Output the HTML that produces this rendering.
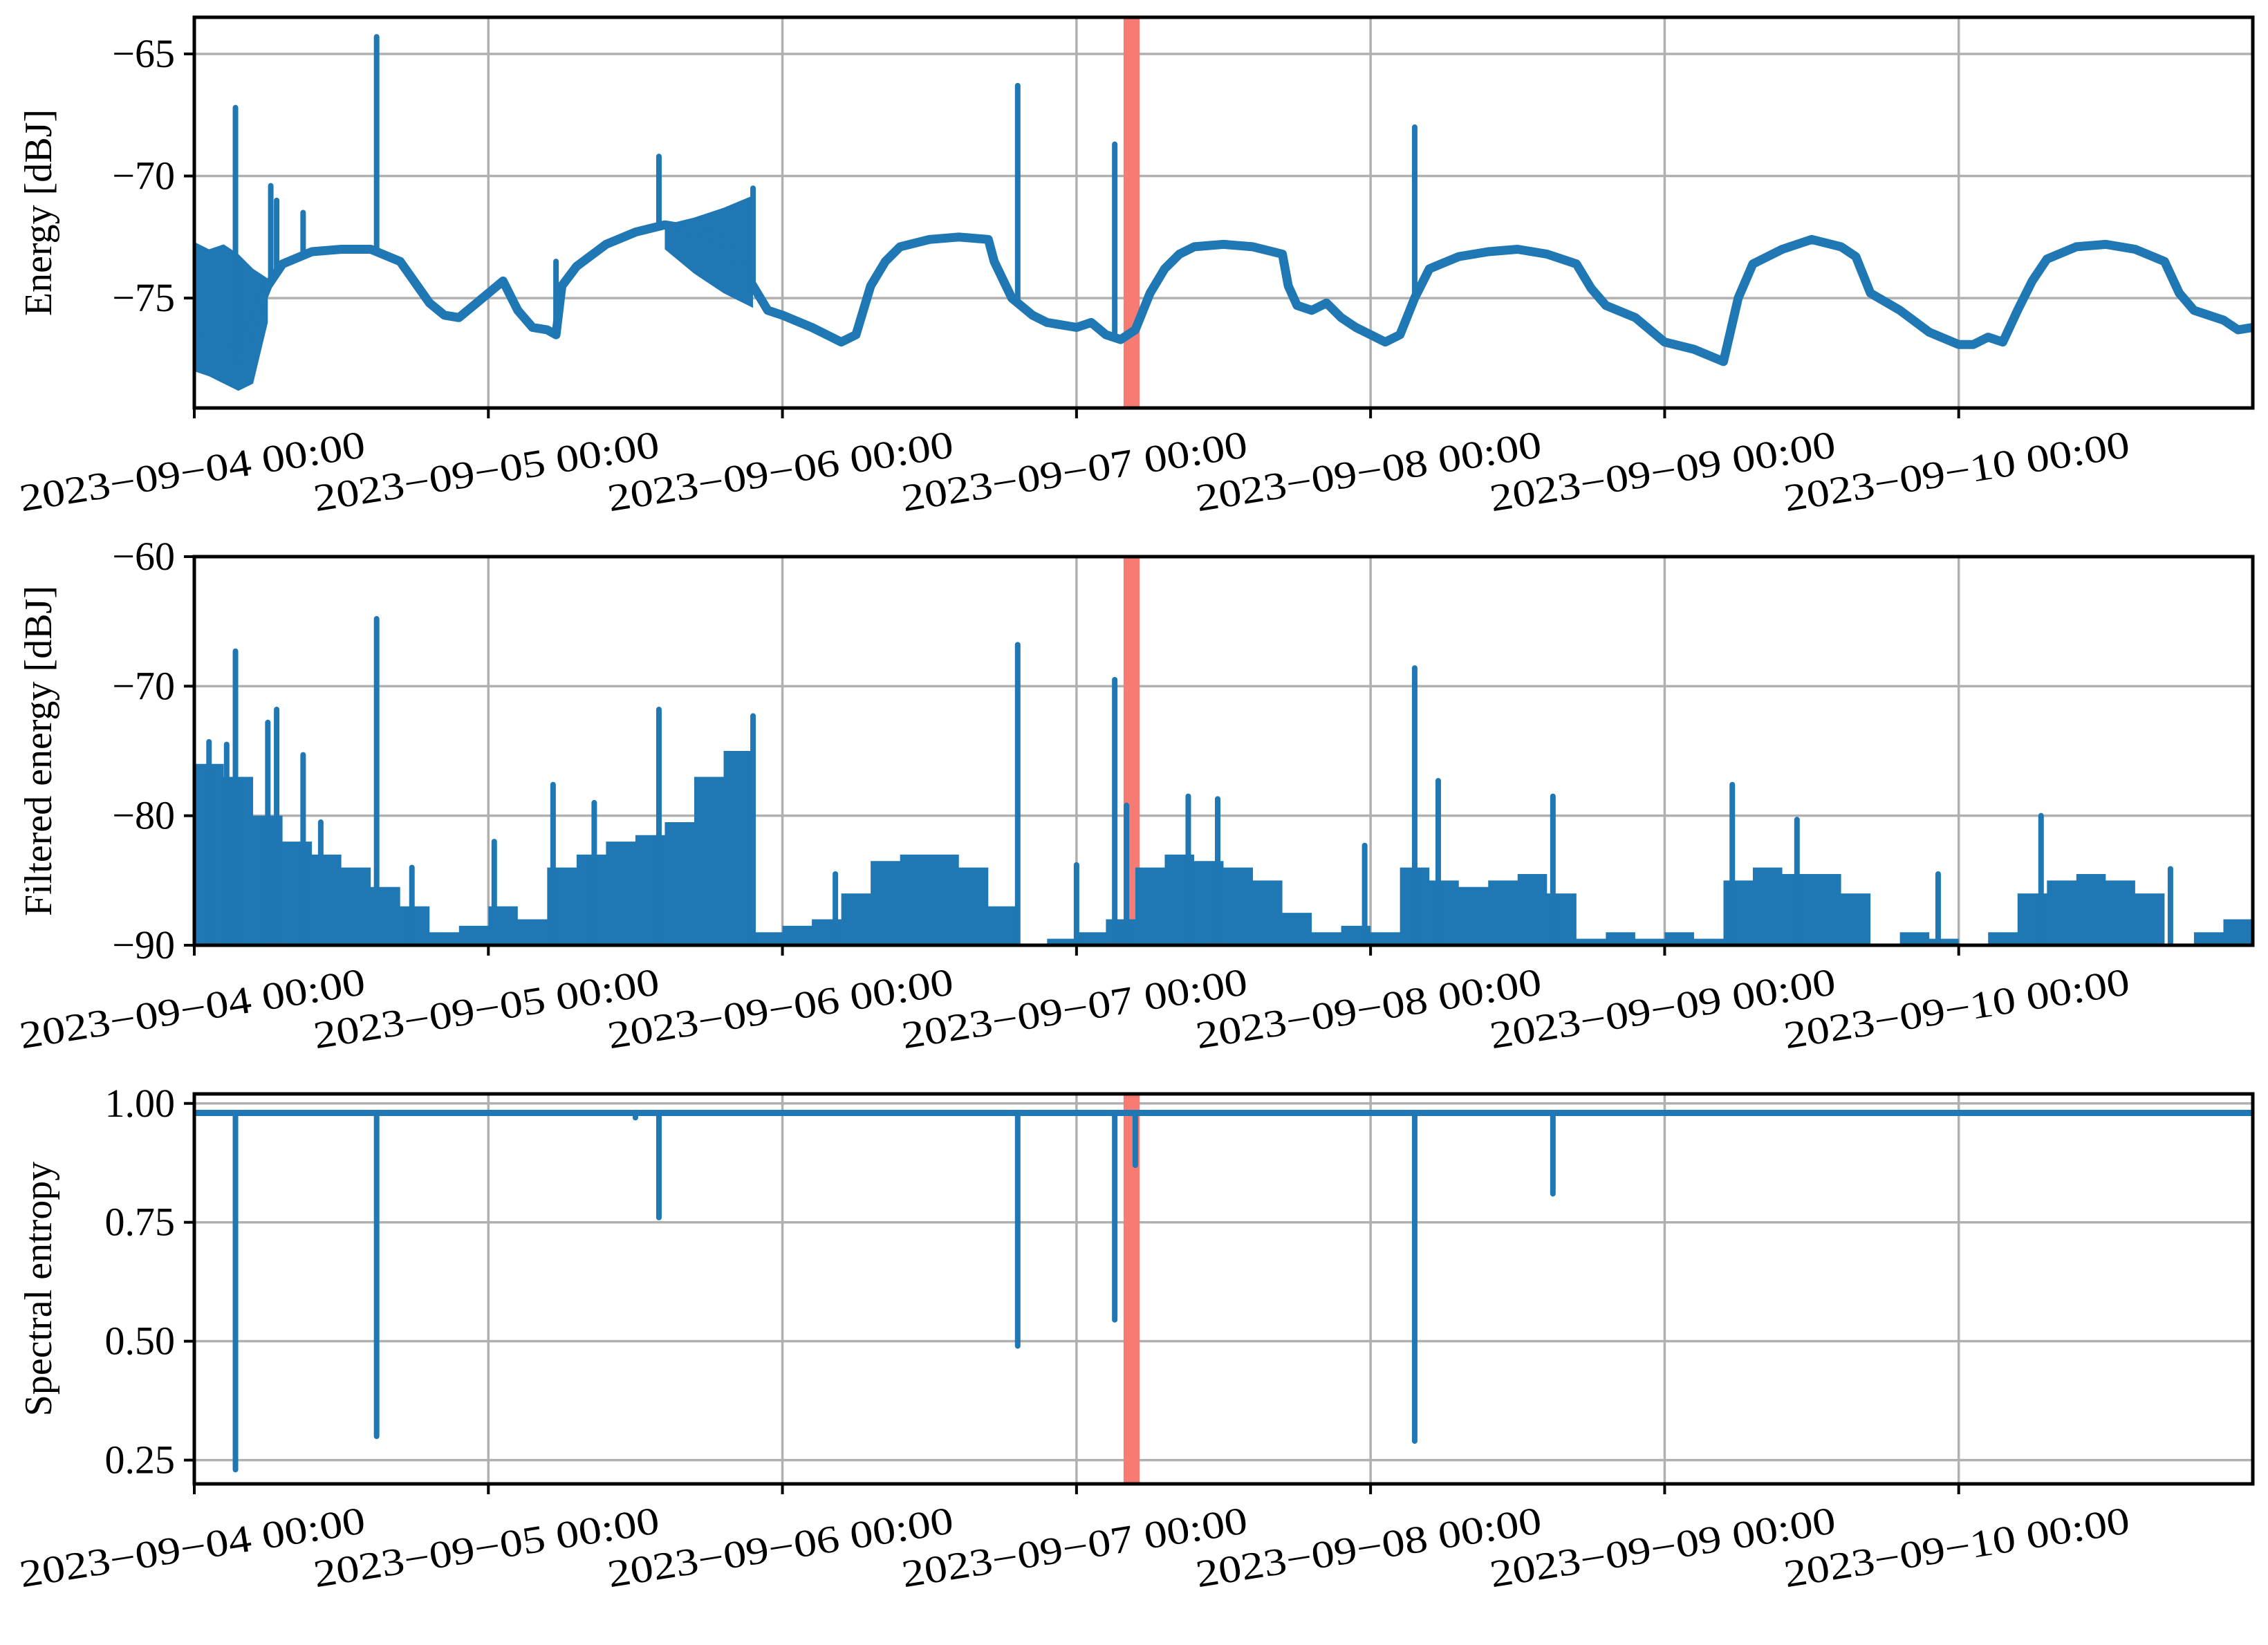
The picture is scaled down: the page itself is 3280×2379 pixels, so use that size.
<!DOCTYPE html>
<html><head><meta charset="utf-8"><style>
html,body{margin:0;padding:0;background:#fff;}
svg{display:block;font-family:"Liberation Serif","DejaVu Serif",serif;}
</style></head><body>
<svg id="chart" width="3280" height="2379" viewBox="0 0 3280 2379" xmlns="http://www.w3.org/2000/svg"></svg>
<script>
// ---- data (days since 2023-09-04 00:00) ----
const dayLabels = ["2023\u221209\u221204 00:00","2023\u221209\u221205 00:00","2023\u221209\u221206 00:00","2023\u221209\u221207 00:00","2023\u221209\u221208 00:00","2023\u221209\u221209 00:00","2023\u221209\u221210 00:00"];
const energyT = [0,0.05,0.1,0.15,0.2,0.25,0.3,0.4,0.5,0.6,0.7,0.8,0.85,0.9,0.95,1.0,1.05,1.1,1.15,1.2,1.23,1.25,1.3,1.4,1.5,1.6,1.7,1.8,1.9,1.95,2.0,2.1,2.15,2.2,2.25,2.3,2.35,2.4,2.5,2.6,2.7,2.72,2.78,2.85,2.9,3.0,3.05,3.1,3.15,3.2,3.25,3.3,3.35,3.4,3.5,3.6,3.7,3.72,3.75,3.8,3.85,3.9,3.95,4.0,4.05,4.1,4.15,4.2,4.3,4.4,4.5,4.6,4.7,4.75,4.8,4.9,5.0,5.1,5.2,5.25,5.3,5.4,5.5,5.6,5.65,5.7,5.8,5.9,6.0,6.05,6.1,6.15,6.2,6.25,6.3,6.4,6.5,6.6,6.7,6.75,6.8,6.9,6.95,7.0];
const energyV = [-76,-76.5,-77,-77.5,-76,-74.5,-73.6,-73.1,-73,-73,-73.5,-75.2,-75.7,-75.8,-75.3,-74.8,-74.3,-75.5,-76.2,-76.3,-76.5,-74.5,-73.7,-72.8,-72.3,-72.0,-72.2,-72.6,-74.5,-75.5,-75.7,-76.2,-76.5,-76.8,-76.5,-74.5,-73.5,-72.9,-72.6,-72.5,-72.6,-73.5,-75,-75.7,-76,-76.2,-76,-76.5,-76.7,-76.3,-74.8,-73.8,-73.2,-72.9,-72.8,-72.9,-73.2,-74.5,-75.3,-75.5,-75.2,-75.8,-76.2,-76.5,-76.8,-76.5,-75,-73.8,-73.3,-73.1,-73.0,-73.2,-73.6,-74.6,-75.3,-75.8,-76.8,-77.1,-77.6,-75,-73.6,-73,-72.6,-72.9,-73.3,-74.8,-75.5,-76.4,-76.9,-76.9,-76.6,-76.8,-75.5,-74.3,-73.4,-72.9,-72.8,-73,-73.5,-74.8,-75.5,-75.9,-76.3,-76.2];
const energyNoiseT = [0,0.05,0.1,0.15,0.2,0.25,1.6,1.7,1.8,1.9];
const energyNoiseHi = [-72.7,-73,-72.8,-73.2,-73.8,-74.2,-72.0,-71.7,-71.3,-70.8];
const energyNoiseLo = [-78,-78.2,-78.5,-78.8,-78.5,-76,-73.0,-74.0,-74.8,-75.4];
const energySpikeT = [0.14,0.26,0.28,0.37,0.62,1.23,1.58,1.9,2.8,3.13,4.15];
const energySpikeV = [-67.2,-70.4,-71.0,-71.5,-64.3,-73.5,-69.2,-70.5,-66.3,-68.7,-68.0];
const filtT = []; for (let i=0;i<70;i++) filtT.push(i/10);
const filtV = [-76,-77,-80,-82,-83,-84,-85.5,-87,-89,-88.5,-87,-88,-84,-83,-82,-81.5,-80.5,-77,-75,-89,-88.5,-88,-86,-83.5,-83,-83,-84,-87,-90,-89.5,-89,-88,-84,-83,-83.5,-84,-85,-87.5,-89,-88.5,-89,-84,-85,-85.5,-85,-84.5,-86,-89.5,-89,-89.5,-89,-89.5,-85,-84,-84.5,-84.5,-86,-90,-89,-89.5,-90,-89,-86,-85,-84.5,-85,-86,-90,-89,-88];
const filtSpikeT = [0.05,0.11,0.14,0.25,0.28,0.37,0.43,0.62,0.74,1.02,1.22,1.36,1.58,1.9,2.18,2.8,3.0,3.13,3.17,3.38,3.48,3.98,4.15,4.23,4.62,5.23,5.45,5.93,6.28,6.72];
const filtSpikeV = [-74.3,-74.5,-67.3,-72.8,-71.8,-75.3,-80.5,-64.8,-84,-82,-77.6,-79,-71.8,-72.3,-84.5,-66.8,-83.8,-69.5,-79.2,-78.5,-78.7,-82.3,-68.6,-77.3,-78.5,-77.6,-80.3,-84.5,-80,-84.1];
const entropyBase = 0.98;
const entropyDipT = [0.14,0.62,1.5,1.58,2.8,3.13,3.2,4.15,4.62];
const entropyDipV = [0.23,0.30,0.97,0.76,0.49,0.545,0.87,0.29,0.81];
const eventStart = 3.16, eventEnd = 3.215;

// ---- layout ----
const NS="http://www.w3.org/2000/svg";
const svg=document.getElementById('chart');
const X0=281, X1=3258;
const BLUE="#1f77b4";
function xs(d){return X0+(X1-X0)*d/7;}
function el(tag,attrs,parent){const e=document.createElementNS(NS,tag);for(const k in attrs)e.setAttribute(k,attrs[k]);(parent||svg).appendChild(e);return e;}

const panels=[
 {top:25,bottom:590,ymin:-79.5,ymax:-63.5,ticks:[-65,-70,-75],fmt:v=>"\u2212"+Math.abs(v),label:"Energy [dBJ]",name:"energy"},
 {top:805,bottom:1367,ymin:-90,ymax:-60,ticks:[-60,-70,-80,-90],fmt:v=>"\u2212"+Math.abs(v),label:"Filtered energy [dBJ]",name:"filtered-energy"},
 {top:1582,bottom:2146,ymin:0.2,ymax:1.02,ticks:[1.0,0.75,0.5,0.25],fmt:v=>v.toFixed(2),label:"Spectral entropy",name:"spectral-entropy"}
];
panels.forEach((p,pi)=>{
 const ys=v=>p.bottom-(p.bottom-p.top)*(v-p.ymin)/(p.ymax-p.ymin);
 p.ys=ys;
 const g=el('g',{});
 
 
 p.g=g;
 const clipId='clip'+pi;
 const cp=el('clipPath',{id:clipId},g); el('rect',{x:X0,y:p.top,width:X1-X0,height:p.bottom-p.top},cp);
 for(let d=0;d<7;d++){const l=el('line',{x1:xs(d),x2:xs(d),y1:p.top,y2:p.bottom,stroke:"#b0b0b0","stroke-width":3.5},g);
  
  }
 p.ticks.forEach(t=>{const l=el('line',{x1:X0,x2:X1,y1:ys(t),y2:ys(t),stroke:"#b0b0b0","stroke-width":3.5},g);
  
  });
 p.plot=el('g',{'clip-path':'url(#'+clipId+')'},g);
});

panels.forEach(p=>{
 const r=el('rect',{x:xs(eventStart),y:p.top,width:xs(eventEnd)-xs(eventStart),height:p.bottom-p.top,fill:"#f77b72"},p.plot);
 
 
});

// panel 1
(function(){
 const p=panels[0],ys=p.ys;
 const n1=6;
 let a="M"+xs(energyNoiseT[0])+","+ys(energyNoiseHi[0]);
 for(let i=1;i<n1;i++)a+="L"+xs(energyNoiseT[i])+","+ys(energyNoiseHi[i]);
 for(let i=n1-1;i>=0;i--)a+="L"+xs(energyNoiseT[i])+","+ys(energyNoiseLo[i]);
 let b="M"+xs(energyNoiseT[n1])+","+ys(energyNoiseHi[n1]);
 for(let i=n1+1;i<energyNoiseT.length;i++)b+="L"+xs(energyNoiseT[i])+","+ys(energyNoiseHi[i]);
 for(let i=energyNoiseT.length-1;i>=n1;i--)b+="L"+xs(energyNoiseT[i])+","+ys(energyNoiseLo[i]);
 const n=el('path',{d:a+"Z"+b+"Z",fill:BLUE},p.plot);
 
 
 let d="";energyT.forEach((t,i)=>{d+=(i?"L":"M")+xs(t).toFixed(1)+","+ys(energyV[i]).toFixed(1);});
 const l=el('path',{d:d,fill:"none",stroke:BLUE,"stroke-width":13,"stroke-linejoin":"round","stroke-linecap":"round"},p.plot);
 
 
 energySpikeT.forEach((t,i)=>{
  let k=0;while(k<energyT.length-1&&energyT[k+1]<t)k++;
  const base=energyV[k]+(energyV[k+1]-energyV[k])*(t-energyT[k])/(energyT[k+1]-energyT[k]);
  const s=el('line',{x1:xs(t),x2:xs(t),y1:ys(base),y2:ys(energySpikeV[i]),stroke:BLUE,"stroke-width":8,"stroke-linecap":"round"},p.plot);
  
  
 });
})();

// panel 2
(function(){
 const p=panels[1],ys=p.ys;
 let d="M"+xs(0)+","+ys(-90);
 filtT.forEach((t,i)=>{d+="L"+xs(t)+","+ys(filtV[i])+"L"+xs(t+0.1)+","+ys(filtV[i]);});
 d+="L"+xs(7)+","+ys(-90)+"Z";
 const a=el('path',{d:d,fill:BLUE},p.plot);
 
 
 filtSpikeT.forEach((t,i)=>{
  const s=el('line',{x1:xs(t),x2:xs(t),y1:ys(-90),y2:ys(filtSpikeV[i]),stroke:BLUE,"stroke-width":8,"stroke-linecap":"round"},p.plot);
  
  
 });
})();

// panel 3
(function(){
 const p=panels[2],ys=p.ys;
 const b=el('line',{x1:xs(0),x2:xs(7),y1:ys(entropyBase),y2:ys(entropyBase),stroke:BLUE,"stroke-width":9},p.plot);
 
 
 entropyDipT.forEach((t,i)=>{
  const s=el('line',{x1:xs(t),x2:xs(t),y1:ys(entropyBase),y2:ys(entropyDipV[i]),stroke:BLUE,"stroke-width":8,"stroke-linecap":"round"},p.plot);
  
  
 });
})();

// axes, ticks, labels
panels.forEach(p=>{
 const g=p.g,ys=p.ys;
 const f=el('rect',{x:X0,y:p.top,width:X1-X0,height:p.bottom-p.top,fill:"none",stroke:"#000","stroke-width":5},g);
 
 
 p.ticks.forEach(t=>{
  el('line',{x1:X0-15,x2:X0,y1:ys(t),y2:ys(t),stroke:"#000","stroke-width":4},g);
  const tx=el('text',{x:X0-28,y:ys(t)+19,"text-anchor":"end","font-size":58},g);
  tx.textContent=p.fmt(t);
  
  
 });
 const cy=(p.top+p.bottom)/2;
 const yl=el('text',{x:0,y:0,"text-anchor":"middle","font-size":56,transform:`translate(74,${cy}) rotate(-90)`},g);
 yl.textContent=p.label;
 
 
 dayLabels.forEach((lab,d)=>{
  el('line',{x1:xs(d),x2:xs(d),y1:p.bottom,y2:p.bottom+15,stroke:"#000","stroke-width":4},g);
  const tx=el('text',{x:0,y:0,"text-anchor":"middle","font-size":56,textLength:505,lengthAdjust:"spacingAndGlyphs",transform:`translate(${xs(d)},${p.bottom+110}) rotate(-9)`},g);
  tx.textContent=lab;
  
  
 });
});
</script>
</body></html>
